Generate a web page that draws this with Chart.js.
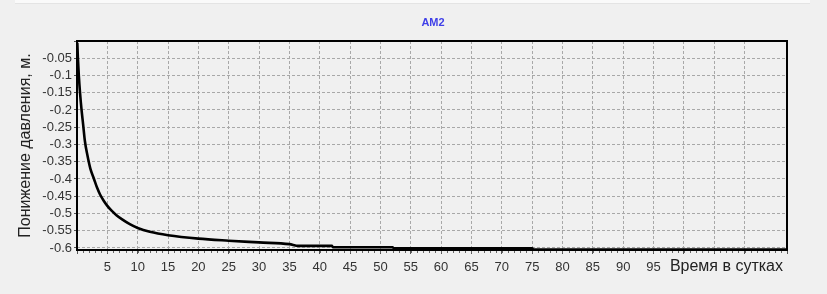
<!DOCTYPE html>
<html lang="ru">
<head>
  <meta charset="UTF-8">
  <title>AM2</title>
  <script src="https://cdn.jsdelivr.net/npm/chart.js"></script>
  <style>
    body {
      margin: 0;
      background: #f0f0f0;
      font-family: 'Liberation Sans', Arial, sans-serif;
    }
    #strip {
      position: absolute;
      left: 15px;
      top: 0;
      width: 795px;
      height: 3px;
      background: #fafafa;
      border-bottom: 1px solid #e4e4e4;
    }
    #chart-container {
      position: relative;
      width: 827px;
      height: 294px;
    }
  </style>
</head>
<body>
  <div id="chart-container">
    <div id="strip"></div>
    <canvas id="myChart"></canvas>
  </div>

  <script>
    // время, сутки
    const days = [0.05, 0.15, 0.3, 0.5, 0.75, 1, 1.3, 1.7, 2.2, 2.8, 3.3, 3.8, 4.4, 5, 5.7, 6.5, 7.5, 8.7, 10, 12, 15, 20, 25, 30, 35, 36.5, 42, 42.2, 52, 52.2, 75, 75.2, 117];
    // понижение давления, м
    const drawdown = [-0.005, -0.05, -0.1, -0.15, -0.2, -0.24, -0.29, -0.33, -0.37, -0.4, -0.425, -0.445, -0.463, -0.478, -0.492, -0.505, -0.518, -0.531, -0.542, -0.553, -0.563, -0.573, -0.579, -0.584, -0.589, -0.594, -0.594, -0.598, -0.598, -0.601, -0.601, -0.605, -0.605];
    const lastXLabel = 95;
    const yTicks = [-0.6, -0.55, -0.5, -0.45, -0.4, -0.35, -0.3, -0.25, -0.2, -0.15, -0.1, -0.05, 0];

    const chartTitle = 'AM2';
    const xTitle = 'Время в сутках';
    const yTitle = 'Понижение давления, м.';

    const FONT = "'Liberation Sans', Arial, sans-serif";

    const framePlugin = {
      id: 'frame',
      afterDraw(chart) {
        const { ctx, chartArea: a } = chart;
        const xs = chart.scales.x;
        ctx.save();
        // мелкие риски по оси X
        ctx.strokeStyle = '#666';
        ctx.lineWidth = 1;
        for (let d = 1; d < xs.max; d++) {
          const px = Math.round(xs.getPixelForValue(d)) + 0.5;
          ctx.beginPath();
          ctx.moveTo(px, a.bottom);
          ctx.lineTo(px, a.bottom + 3);
          ctx.stroke();
        }
        ctx.strokeStyle = '#000';
        ctx.lineWidth = 2;
        ctx.strokeRect(a.left, a.top, a.right - a.left, a.bottom - a.top);

        ctx.fillStyle = '#3f3fe8';
        ctx.font = 'bold 11px ' + FONT;
        ctx.textAlign = 'center';
        ctx.textBaseline = 'middle';
        ctx.fillText(chartTitle, (a.left + a.right) / 2 + 1, 23);

        ctx.fillStyle = '#222';
        ctx.font = '16px ' + FONT;
        ctx.textAlign = 'right';
        ctx.fillText(xTitle, a.right - 4, 267);
        ctx.restore();
      }
    };

    const ctx = document.getElementById('myChart').getContext('2d');
    const myChart = new Chart(ctx, {
      type: 'line',
      data: {
        datasets: [{
          data: days.map((d, i) => ({ x: d, y: drawdown[i] })),
          borderColor: '#000',
          borderWidth: 2.6,
          pointRadius: 0,
          cubicInterpolationMode: 'monotone',
          fill: false
        }]
      },
      options: {
        responsive: true,
        maintainAspectRatio: false,
        animation: false,
        layout: { padding: { left: 14, right: 40, top: 41, bottom: 0 } },
        plugins: {
          legend: { display: false },
          tooltip: { enabled: false }
        },
        scales: {
          x: {
            type: 'linear',
            min: 0,
            max: 117,
            afterFit(scale) { scale.height = 44; },
            border: { display: false, dash: [3, 2] },
            grid: {
              color: '#a8a8a8',
              tickLength: 4,
              tickColor: '#555',
              tickBorderDash: []
            },
            ticks: {
              stepSize: 5,
              autoSkip: false,
              maxRotation: 0,
              padding: 6,
              color: '#333',
              font: { family: FONT, size: 13 },
              callback: v => (v === 0 || v > lastXLabel) ? '' : v
            }
          },
          y: {
            min: -0.606,
            max: 0,
            afterFit(scale) { scale.width = 63; },
            afterBuildTicks(scale) { scale.ticks = yTicks.map(v => ({ value: v })); },
            border: { display: false, dash: [3, 2] },
            grid: {
              color: '#a8a8a8',
              tickLength: 3,
              tickColor: '#555',
              tickBorderDash: []
            },
            title: {
              display: true,
              text: yTitle,
              color: '#222',
              padding: { top: 2, bottom: 0 },
              font: { family: FONT, size: 16 }
            },
            ticks: {
              autoSkip: false,
              padding: 2,
              color: '#333',
              font: { family: FONT, size: 13 },
              callback: v => v === 0 ? '' : String(Math.round(v * 100) / 100)
            }
          }
        }
      },
      plugins: [framePlugin]
    });
  </script>
</body>
</html>
